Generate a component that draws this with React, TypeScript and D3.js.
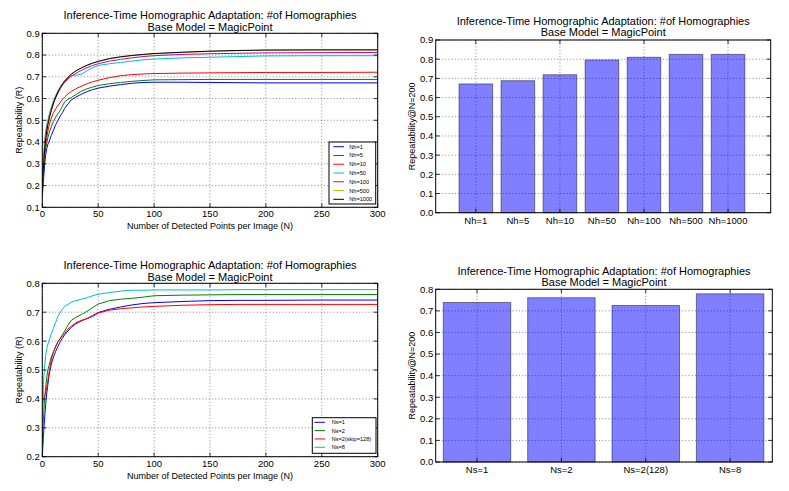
import React from "react";
import * as d3 from "d3";

const FONT = "'Liberation Sans', Arial, Helvetica, sans-serif";

// ---------- DATA ----------
const TITLE1 = "Inference-Time Homographic Adaptation: #of Homographies";
const TITLE2 = "Base Model = MagicPoint";

const N_POINTS = [0, 1, 2, 3, 4, 5, 6, 8, 10, 12, 14, 16, 18, 20, 23, 26, 30, 35, 40, 45, 50, 60, 70, 80, 90, 100, 125, 150, 175, 200, 250, 300];

const nh1 = [0.15, 0.22, 0.29, 0.34, 0.37, 0.39, 0.40, 0.43, 0.455, 0.48, 0.50, 0.52, 0.535, 0.555, 0.575, 0.594, 0.607, 0.62, 0.632, 0.641, 0.648, 0.657, 0.664, 0.670, 0.674, 0.675, 0.675, 0.674, 0.673, 0.672, 0.672, 0.672];
const nh5 = [0.20, 0.27, 0.33, 0.37, 0.395, 0.42, 0.44, 0.47, 0.495, 0.515, 0.53, 0.545, 0.565, 0.585, 0.597, 0.605, 0.618, 0.634, 0.645, 0.653, 0.660, 0.668, 0.674, 0.679, 0.683, 0.686, 0.687, 0.688, 0.688, 0.688, 0.688, 0.688];
const nh10 = [0.20, 0.28, 0.35, 0.39, 0.42, 0.45, 0.475, 0.51, 0.535, 0.553, 0.568, 0.582, 0.595, 0.607, 0.622, 0.633, 0.645, 0.657, 0.668, 0.677, 0.684, 0.696, 0.705, 0.71, 0.713, 0.715, 0.717, 0.718, 0.719, 0.72, 0.72, 0.721];
const nh50 = [0.22, 0.32, 0.40, 0.45, 0.48, 0.50, 0.525, 0.56, 0.59, 0.615, 0.635, 0.652, 0.667, 0.68, 0.695, 0.705, 0.708, 0.712, 0.728, 0.742, 0.752, 0.760, 0.766, 0.772, 0.778, 0.782, 0.787, 0.79, 0.793, 0.796, 0.797, 0.797];
const nh100 = [0.20, 0.30, 0.38, 0.43, 0.465, 0.49, 0.51, 0.545, 0.578, 0.603, 0.625, 0.645, 0.66, 0.674, 0.69, 0.703, 0.716, 0.73, 0.742, 0.752, 0.76, 0.772, 0.780, 0.787, 0.793, 0.797, 0.803, 0.806, 0.808, 0.81, 0.811, 0.812];
const nh500 = [0.18, 0.29, 0.37, 0.42, 0.455, 0.485, 0.51, 0.55, 0.585, 0.61, 0.632, 0.652, 0.668, 0.683, 0.70, 0.714, 0.728, 0.742, 0.753, 0.762, 0.770, 0.782, 0.791, 0.797, 0.802, 0.806, 0.812, 0.817, 0.82, 0.822, 0.823, 0.823];
const nh1000 = [0.17, 0.28, 0.36, 0.415, 0.45, 0.48, 0.505, 0.545, 0.58, 0.607, 0.63, 0.65, 0.666, 0.68, 0.698, 0.712, 0.727, 0.741, 0.753, 0.763, 0.771, 0.784, 0.792, 0.798, 0.803, 0.807, 0.813, 0.818, 0.821, 0.823, 0.824, 0.824];

const ns1 = [0.20, 0.27, 0.33, 0.38, 0.42, 0.45, 0.48, 0.52, 0.545, 0.565, 0.582, 0.598, 0.61, 0.622, 0.635, 0.648, 0.66, 0.67, 0.678, 0.688, 0.699, 0.71, 0.718, 0.725, 0.73, 0.733, 0.737, 0.74, 0.741, 0.741, 0.742, 0.742];
const ns2 = [0.25, 0.33, 0.40, 0.44, 0.475, 0.50, 0.515, 0.545, 0.563, 0.58, 0.598, 0.61, 0.622, 0.635, 0.655, 0.672, 0.682, 0.692, 0.703, 0.716, 0.728, 0.74, 0.745, 0.748, 0.752, 0.757, 0.759, 0.760, 0.761, 0.761, 0.761, 0.761];
const ns2skip = [0.385, 0.395, 0.41, 0.42, 0.44, 0.465, 0.49, 0.535, 0.562, 0.583, 0.598, 0.608, 0.618, 0.627, 0.642, 0.652, 0.663, 0.672, 0.678, 0.685, 0.697, 0.707, 0.712, 0.715, 0.718, 0.72, 0.724, 0.726, 0.727, 0.727, 0.727, 0.727];
const ns8 = [0.22, 0.45, 0.51, 0.55, 0.575, 0.59, 0.60, 0.625, 0.645, 0.665, 0.685, 0.70, 0.71, 0.72, 0.727, 0.735, 0.74, 0.745, 0.75, 0.757, 0.762, 0.768, 0.773, 0.776, 0.776, 0.777, 0.777, 0.777, 0.778, 0.778, 0.778, 0.778];

const NH_NAMES = ["Nh=1", "Nh=5", "Nh=10", "Nh=50", "Nh=100", "Nh=500", "Nh=1000"];
const NH_COLORS = ["#0000ff", "#008000", "#ff0000", "#00bfbf", "#bf00bf", "#bfbf00", "#000000"];
const NH_SERIES = [nh1, nh5, nh10, nh50, nh100, nh500, nh1000];

const NS_NAMES = ["Ns=1", "Ns=2", "Ns=2(skip=128)", "Ns=8"];
const NS_COLORS = ["#0000ff", "#008000", "#ff0000", "#00bfbf"];
const NS_SERIES = [ns1, ns2, ns2skip, ns8];

const NH_BAR_LABELS = ["Nh=1", "Nh=5", "Nh=10", "Nh=50", "Nh=100", "Nh=500", "Nh=1000"];
const NH_BAR_VALUES = [0.671, 0.688, 0.719, 0.796, 0.810, 0.825, 0.825];
const NS_BAR_LABELS = ["Ns=1", "Ns=2", "Ns=2(128)", "Ns=8"];
const NS_BAR_VALUES = [0.739, 0.761, 0.725, 0.779];

const X_TICKS = [0, 50, 100, 150, 200, 250, 300];
const Y_TICKS_TL = [0.1, 0.2, 0.3, 0.4, 0.5, 0.6, 0.7, 0.8, 0.9];
const Y_TICKS_TR = [0.0, 0.1, 0.2, 0.3, 0.4, 0.5, 0.6, 0.7, 0.8, 0.9];
const Y_TICKS_BL = [0.2, 0.3, 0.4, 0.5, 0.6, 0.7, 0.8];
const Y_TICKS_BR = [0.0, 0.1, 0.2, 0.3, 0.4, 0.5, 0.6, 0.7, 0.8];

// ---------- COMPONENTS ----------
type Box = { l: number; r: number; t: number; b: number };

function Frame({ box, xs, ys, xScale, yScale, tick = 4 }: any) {
  return (
    <g>
      {ys.map((v: number, i: number) => (
        <line key={"gy" + i} x1={box.l} x2={box.r} y1={yScale(v)} y2={yScale(v)} stroke="#555" strokeWidth={0.6} strokeDasharray="1.2,2" />
      ))}
      {xs.map((v: number, i: number) => (
        <line key={"gx" + i} x1={xScale(v)} x2={xScale(v)} y1={box.t} y2={box.b} stroke="#555" strokeWidth={0.6} strokeDasharray="1.2,2" />
      ))}
    </g>
  );
}

function Spines({ box, xs, ys, xScale, yScale, tick = 4 }: any) {
  return (
    <g>
      {ys.map((v: number, i: number) => (
        <g key={"ty" + i}>
          <line x1={box.l} x2={box.l + tick} y1={yScale(v)} y2={yScale(v)} stroke="#000" strokeWidth={0.8} />
          <line x1={box.r} x2={box.r - tick} y1={yScale(v)} y2={yScale(v)} stroke="#000" strokeWidth={0.8} />
        </g>
      ))}
      {xs.map((v: number, i: number) => (
        <g key={"tx" + i}>
          <line x1={xScale(v)} x2={xScale(v)} y1={box.b} y2={box.b - tick} stroke="#000" strokeWidth={0.8} />
          <line x1={xScale(v)} x2={xScale(v)} y1={box.t} y2={box.t + tick} stroke="#000" strokeWidth={0.8} />
        </g>
      ))}
      <rect x={box.l} y={box.t} width={box.r - box.l} height={box.b - box.t} fill="none" stroke="#000" strokeWidth={1} />
    </g>
  );
}

function Titles({ cx, y1 }: { cx: number; y1: number }) {
  return (
    <g fontFamily={FONT} fontSize={11} textAnchor="middle" fill="#000">
      <text x={cx} y={y1}>{TITLE1}</text>
      <text x={cx} y={y1 + 11.5}>{TITLE2}</text>
    </g>
  );
}

function YTickLabels({ box, ys, yScale }: any) {
  return (
    <g fontFamily={FONT} fontSize={9.5} textAnchor="end" fill="#000">
      {ys.map((v: number, i: number) => (
        <text key={i} x={box.l - 2.5} y={yScale(v) + 3.4}>{d3.format(".1f")(v)}</text>
      ))}
    </g>
  );
}

function LineChart({ box, id, yDomain, yTicks, names, colors, series, legend, titleY, yLabelX }: any) {
  const x = d3.scaleLinear().domain([0, 300]).range([box.l, box.r]);
  const y = d3.scaleLinear().domain(yDomain).range([box.b, box.t]);
  const line = d3.line<number>().x((_, i) => x(N_POINTS[i])).y((d) => y(d)).curve(d3.curveLinear);
  const cx = (box.l + box.r) / 2;
  const cy = (box.t + box.b) / 2;
  return (
    <g>
      <defs>
        <clipPath id={id}>
          <rect x={box.l} y={box.t} width={box.r - box.l} height={box.b - box.t} />
        </clipPath>
      </defs>
      <Frame box={box} xs={X_TICKS} ys={yTicks} xScale={x} yScale={y} />
      <g clipPath={`url(#${id})`}>
        {series.map((s: number[], i: number) => (
          <path key={i} d={line(s) || ""} fill="none" stroke={colors[i]} strokeWidth={1} strokeLinejoin="round" />
        ))}
      </g>
      <Spines box={box} xs={X_TICKS} ys={yTicks} xScale={x} yScale={y} />
      <YTickLabels box={box} ys={yTicks} yScale={y} />
      <g fontFamily={FONT} fontSize={9.5} textAnchor="middle" fill="#000">
        {X_TICKS.map((v, i) => (
          <text key={i} x={x(v)} y={box.b + 10}>{v}</text>
        ))}
      </g>
      <text x={cx} y={box.b + 22} fontFamily={FONT} fontSize={9} textAnchor="middle">Number of Detected Points per Image (N)</text>
      <text transform={`translate(${yLabelX},${cy}) rotate(-90)`} fontFamily={FONT} fontSize={9} textAnchor="middle">Repeatability (R)</text>
      <Titles cx={cx} y1={titleY} />
      <g>
        <rect x={legend.x} y={legend.y} width={legend.w} height={legend.h} fill="#fff" stroke="#000" strokeWidth={1} />
        {names.map((n: string, i: number) => {
          const ly = legend.row0 + i * legend.dy;
          return (
            <g key={i}>
              <line x1={legend.lx0} x2={legend.lx1} y1={ly} y2={ly} stroke={colors[i]} strokeWidth={1} />
              <text x={legend.tx} y={ly + 2} fontFamily={FONT} fontSize={5.6} fill="#000">{n}</text>
            </g>
          );
        })}
      </g>
    </g>
  );
}

function BarChart({ box, xDomain, gridX, yDomain, yTicks, labels, values, titleY, yLabelX }: any) {
  const x = d3.scaleLinear().domain(xDomain).range([box.l, box.r]);
  const y = d3.scaleLinear().domain(yDomain).range([box.b, box.t]);
  const idx = d3.range(labels.length);
  const bw = x(0.8) - x(0);
  const cx = (box.l + box.r) / 2;
  const cy = (box.t + box.b) / 2;
  return (
    <g>
      <Frame box={box} xs={gridX} ys={yTicks} xScale={x} yScale={y} />
      {idx.map((i) => (
        <rect key={i} x={x(i) - bw / 2} y={y(values[i])} width={bw} height={y(0) - y(values[i])}
          fill="#0000ff" fillOpacity={0.5} stroke="#000" strokeOpacity={0.45} strokeWidth={1} />
      ))}
      <Spines box={box} xs={gridX} ys={yTicks} xScale={x} yScale={y} />
      <YTickLabels box={box} ys={yTicks} yScale={y} />
      <g fontFamily={FONT} fontSize={9.5} textAnchor="middle" fill="#000">
        {idx.map((i) => (
          <text key={i} x={x(i)} y={box.b + 11}>{labels[i]}</text>
        ))}
      </g>
      <text transform={`translate(${yLabelX},${cy}) rotate(-90)`} fontFamily={FONT} fontSize={9} textAnchor="middle">Repeatability@N=200</text>
      <Titles cx={cx} y1={titleY} />
    </g>
  );
}

export default function App() {
  return (
    <svg width={789} height={491} style={{ position: "absolute", left: 0, top: 0, background: "#fff" }}>
      <rect x={0} y={0} width={789} height={491} fill="#fff" />
      <LineChart
        id="clipTL"
        box={{ l: 42.3, r: 377.7, t: 33.3, b: 207.3 }}
        yDomain={[0.1, 0.9]}
        yTicks={Y_TICKS_TL}
        names={NH_NAMES}
        colors={NH_COLORS}
        series={NH_SERIES}
        titleY={19}
        yLabelX={21.5}
        legend={{ x: 329, y: 142, w: 46.7, h: 62, row0: 146.7, dy: 8.77, lx0: 333.3, lx1: 344, tx: 349.3 }}
      />
      <BarChart
        box={{ l: 435.7, r: 770.7, t: 40, b: 212.7 }}
        xDomain={[-0.955, 7.015]}
        gridX={[0, 2, 4, 6]}
        yDomain={[0, 0.9]}
        yTicks={Y_TICKS_TR}
        labels={NH_BAR_LABELS}
        values={NH_BAR_VALUES}
        titleY={24.7}
        yLabelX={415}
      />
      <LineChart
        id="clipBL"
        box={{ l: 42.3, r: 377.7, t: 283.3, b: 456.7 }}
        yDomain={[0.2, 0.8]}
        yTicks={Y_TICKS_BL}
        names={NS_NAMES}
        colors={NS_COLORS}
        series={NS_SERIES}
        titleY={269}
        yLabelX={21.5}
        legend={{ x: 312.3, y: 417.7, w: 63.7, h: 35.6, row0: 422.3, dy: 8.33, lx0: 314.5, lx1: 325, tx: 331.7 }}
      />
      <BarChart
        box={{ l: 435.7, r: 772.3, t: 289.3, b: 462 }}
        xDomain={[-0.49, 3.5]}
        gridX={[0, 1, 2, 3]}
        yDomain={[0, 0.8]}
        yTicks={Y_TICKS_BR}
        labels={NS_BAR_LABELS}
        values={NS_BAR_VALUES}
        titleY={274.7}
        yLabelX={415}
      />
    </svg>
  );
}
